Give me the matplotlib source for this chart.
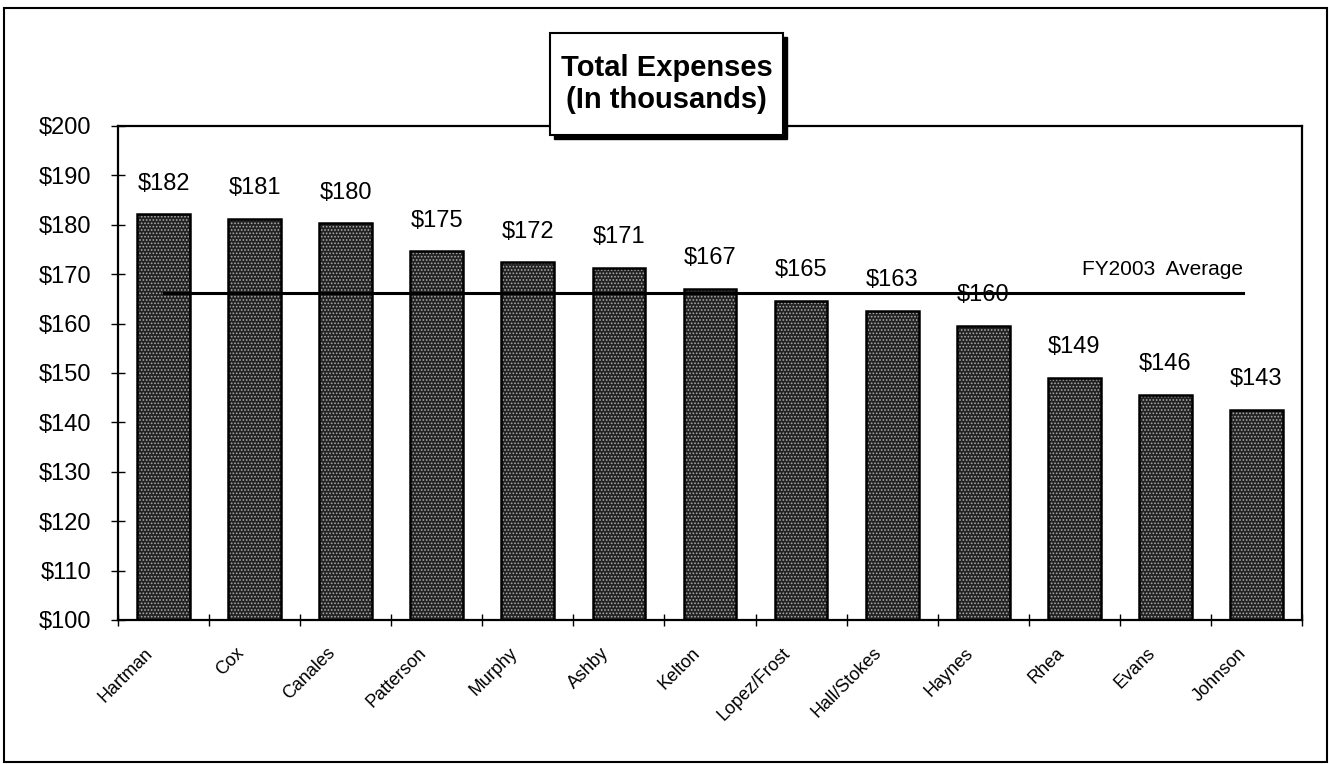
import numpy as np
import matplotlib
matplotlib.use('Agg')
import matplotlib.pyplot as plt
import matplotlib.transforms as mtransforms
from matplotlib.patches import Rectangle

plt.rcParams['font.family'] = ['Liberation Sans', 'DejaVu Sans']
plt.rcParams['hatch.linewidth'] = 0.8

# data (thousands of $)
names = ['Hartman', 'Cox', 'Canales', 'Patterson', 'Murphy', 'Ashby', 'Kelton',
         'Lopez/Frost', 'Hall/Stokes', 'Haynes', 'Rhea', 'Evans', 'Johnson']
expenses = [182.1, 181.2, 180.3, 174.6, 172.4, 171.3, 167.0,
            164.6, 162.6, 159.6, 149.0, 145.6, 142.6]
fy2003_avg = 166.2
yticks = [100, 110, 120, 130, 140, 150, 160, 170, 180, 190, 200]

W, H = 1329, 764
fig = plt.figure(figsize=(W / 100, H / 100), dpi=100)

# plot area in pixel terms
left, right, top, bottom = 118, 1302, 126, 620
ax = fig.add_axes([left / W, 1 - bottom / H, (right - left) / W, (bottom - top) / H])

x = np.arange(len(names))
# stippled grey fill, then a black outline on top
ax.bar(x, [v - 100 for v in expenses], bottom=100, width=0.58,
       facecolor='#222222', edgecolor='#a8a8a8', linewidth=0, hatch='.....', zorder=2)
ax.bar(x, [v - 100 for v in expenses], bottom=100, width=0.58,
       fill=False, edgecolor='black', linewidth=1.8, zorder=3)

for xi, v in zip(x, expenses):
    ax.annotate('$%.0f' % round(v), (xi, v), xytext=(0, 22), textcoords='offset points',
                ha='center', va='center', fontsize=17, zorder=4)

# average line
ax.plot([x[0], x[-1] - 0.15], [fy2003_avg, fy2003_avg], color='black', lw=2.2, zorder=4)
ax.annotate('FY2003  Average', (x[-1] - 0.15, fy2003_avg), xytext=(0, 17),
            textcoords='offset points', ha='right', va='center', fontsize=15)

ax.set_xlim(-0.5, len(names) - 0.5)
ax.set_ylim(100, 200)
ax.set_yticks(yticks)
ax.set_yticklabels(['$%d' % t for t in yticks], fontsize=17)
ax.tick_params(axis='y', direction='inout', length=10, width=1, pad=14)

ax.set_xticks(x)
ax.set_xticklabels(names, rotation=45, ha='right', va='center',
                   rotation_mode='anchor', fontsize=13)
ax.tick_params(axis='x', which='major', length=0, pad=22)
ax.set_xticks(np.arange(-0.5, len(names), 1.0), minor=True)
ax.tick_params(axis='x', which='minor', direction='inout', length=8, width=1)
shift = mtransforms.ScaledTranslation(-13 / 100, 0, fig.dpi_scale_trans)
for lab in ax.get_xticklabels():
    lab.set_transform(lab.get_transform() + shift)

for sp in ax.spines.values():
    sp.set_linewidth(1.6)
    sp.set_color('black')

# outer frame around the whole chart
fig.add_artist(Rectangle((4 / W, 1 - 762 / H), (1327 - 4) / W, (762 - 8) / H,
                         transform=fig.transFigure, fill=False,
                         edgecolor='black', linewidth=1.5, zorder=1))

# title box with a drop shadow
bx0, bx1, by0, by1 = 550, 783, 33, 135
fig.add_artist(Rectangle(((bx0 + 4) / W, 1 - (by1 + 4) / H), (bx1 - bx0) / W, (by1 - by0) / H,
                         transform=fig.transFigure, facecolor='black',
                         edgecolor='black', zorder=5))
fig.add_artist(Rectangle((bx0 / W, 1 - by1 / H), (bx1 - bx0) / W, (by1 - by0) / H,
                         transform=fig.transFigure, facecolor='white',
                         edgecolor='black', linewidth=1.5, zorder=6))
fig.text((bx0 + bx1) / 2 / W, 1 - (by0 + by1) / 2 / H, 'Total Expenses\n(In thousands)',
         ha='center', va='center', fontsize=21, fontweight='bold',
         linespacing=1.2, zorder=7)

fig.savefig('out.png', dpi=100)
